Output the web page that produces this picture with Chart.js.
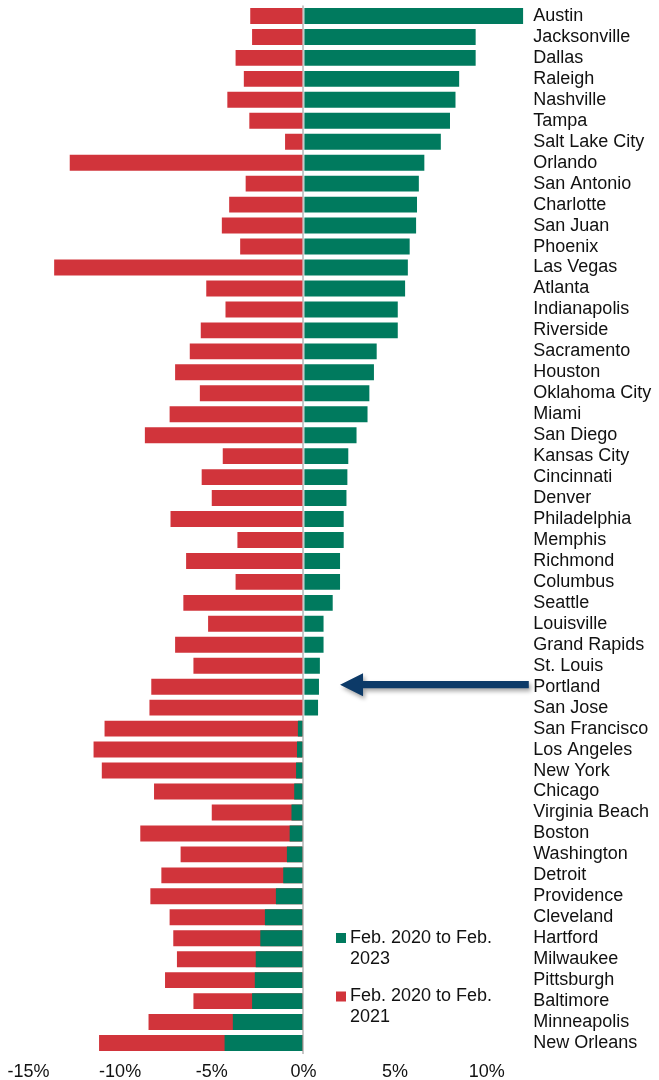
<!DOCTYPE html>
<html>
<head>
<meta charset="utf-8">
<script src="https://cdn.jsdelivr.net/npm/chart.js@4.4.1/dist/chart.umd.min.js"></script>
<style>
  html, body { margin: 0; padding: 0; background: #fff; }
  #wrap { position: relative; width: 659px; height: 1080px; }
</style>
</head>
<body>
<div id="wrap"><canvas id="metroChart"></canvas></div>
<script>
// --- Data (percent change) ---
const cities = [
    'Austin', 'Jacksonville', 'Dallas', 'Raleigh', 'Nashville', 'Tampa', 'Salt Lake City',
    'Orlando', 'San Antonio', 'Charlotte', 'San Juan', 'Phoenix', 'Las Vegas', 'Atlanta',
    'Indianapolis', 'Riverside', 'Sacramento', 'Houston', 'Oklahoma City', 'Miami',
    'San Diego', 'Kansas City', 'Cincinnati', 'Denver', 'Philadelphia', 'Memphis',
    'Richmond', 'Columbus', 'Seattle', 'Louisville', 'Grand Rapids', 'St. Louis',
    'Portland', 'San Jose', 'San Francisco', 'Los Angeles', 'New York', 'Chicago',
    'Virginia Beach', 'Boston', 'Washington', 'Detroit', 'Providence', 'Cleveland',
    'Hartford', 'Milwaukee', 'Pittsburgh', 'Baltimore', 'Minneapolis', 'New Orleans'
];

// Feb. 2020 to Feb. 2023
const change2023 = [
    12.0, 9.4, 9.4, 8.5, 8.3, 8.0, 7.5, 6.6, 6.3, 6.2,
    6.15, 5.8, 5.7, 5.55, 5.15, 5.15, 4.0, 3.85, 3.6, 3.5,
    2.9, 2.45, 2.4, 2.35, 2.2, 2.2, 2.0, 2.0, 1.6, 1.1,
    1.1, 0.9, 0.85, 0.8, -0.3, -0.35, -0.4, -0.5, -0.65, -0.75,
    -0.9, -1.1, -1.5, -2.1, -2.35, -2.6, -2.65, -2.8, -3.85, -4.3
];

// Feb. 2020 to Feb. 2021
const change2021 = [
    -2.9, -2.8, -3.7, -3.25, -4.15, -2.95, -1.0, -12.75, -3.15, -4.05,
    -4.45, -3.45, -13.6, -5.3, -4.25, -5.6, -6.2, -7.0, -5.65, -7.3,
    -8.65, -4.4, -5.55, -5.0, -7.25, -3.6, -6.4, -3.7, -6.55, -5.2,
    -7.0, -6.0, -8.3, -8.4, -10.85, -11.45, -11.0, -8.15, -5.0, -8.9,
    -6.7, -7.75, -8.35, -7.3, -7.1, -6.9, -7.55, -6.0, -8.45, -11.15
];

const xTickValues = [-15, -10, -5, 0, 5, 10];
const seriesLabels = ['Feb. 2020 to Feb. 2023', 'Feb. 2020 to Feb. 2021'];
const highlightCity = 'Portland';

const GREEN = '#007a5e';
const RED = '#d1343b';
const NAVY = '#0c3a68';
const TEXT = '#111';
const FONT_FAMILY = '"Liberation Sans", Arial, sans-serif';

// --- Arrow pointing at the highlighted city ---
const arrowPlugin = {
    id: 'highlightArrow',
    afterDatasetsDraw(chart) {
        const { ctx, chartArea, scales: { x, y } } = chart;
        const yc = y.getPixelForValue(cities.indexOf(highlightCity)) - 2;
        const tipX = x.getPixelForValue(2.0);
        const tailX = chartArea.right + 5.5;
        const headLen = 23, headHalf = 11.5, shaftHalf = 3.6;

        ctx.save();
        ctx.shadowColor = 'rgba(0, 0, 0, 0.35)';
        ctx.shadowBlur = 4;
        ctx.shadowOffsetX = 2;
        ctx.shadowOffsetY = 3;
        ctx.fillStyle = NAVY;
        ctx.beginPath();
        ctx.moveTo(tipX, yc);
        ctx.lineTo(tipX + headLen, yc - headHalf);
        ctx.lineTo(tipX + headLen, yc - shaftHalf);
        ctx.lineTo(tailX, yc - shaftHalf);
        ctx.lineTo(tailX, yc + shaftHalf);
        ctx.lineTo(tipX + headLen, yc + shaftHalf);
        ctx.lineTo(tipX + headLen, yc + headHalf);
        ctx.closePath();
        ctx.fill();
        ctx.restore();
    }
};

// --- Legend drawn inside the plot, bottom right ---
const insideLegend = {
    id: 'insideLegend',
    afterDraw(chart) {
        const { ctx } = chart;
        const left = 336, textX = 350, maxW = 165, lineH = 20.6;
        const rowTops = [933, 991.5];

        ctx.save();
        ctx.font = '18px ' + FONT_FAMILY;
        ctx.textBaseline = 'middle';
        ctx.textAlign = 'left';

        chart.data.datasets.forEach((ds, i) => {
            const top = rowTops[i];
            ctx.fillStyle = ds.backgroundColor;
            ctx.fillRect(left, top, 10, 10);

            // simple word wrap
            const words = ds.label.split(' ');
            const lines = [];
            let line = '';
            words.forEach(w => {
                const test = line ? line + ' ' + w : w;
                if (ctx.measureText(test).width > maxW && line) {
                    lines.push(line);
                    line = w;
                } else {
                    line = test;
                }
            });
            lines.push(line);

            ctx.fillStyle = TEXT;
            lines.forEach((l, j) => ctx.fillText(l, textX, top + 5 + j * lineH));
        });
        ctx.restore();
    }
};

const tickFont = { family: FONT_FAMILY, size: 18 };

new Chart(document.getElementById('metroChart'), {
    type: 'bar',
    data: {
        labels: cities,
        datasets: [
            {
                label: seriesLabels[0],
                data: change2023,
                backgroundColor: GREEN,
                grouped: false,
                barPercentage: 0.76,
                categoryPercentage: 1
            },
            {
                label: seriesLabels[1],
                data: change2021,
                backgroundColor: RED,
                grouped: false,
                barPercentage: 0.76,
                categoryPercentage: 1
            }
        ]
    },
    options: {
        indexAxis: 'y',
        responsive: true,
        maintainAspectRatio: false,
        animation: false,
        layout: { padding: { top: 5.5, left: 28.5, right: 0, bottom: 0 } },
        plugins: {
            legend: { display: false },
            tooltip: { enabled: false }
        },
        scales: {
            x: {
                type: 'linear',
                min: -15,
                max: 12,
                z: 1,
                afterBuildTicks: s => { s.ticks = xTickValues.map(v => ({ value: v })); },
                afterFit: s => { s.height = 26.5; s.paddingLeft = 0; s.paddingRight = 0; },
                grid: {
                    color: c => (c.tick && c.tick.value === 0 ? '#c8c8c8' : 'rgba(0,0,0,0)'),
                    lineWidth: 2,
                    drawTicks: false
                },
                border: { display: false },
                ticks: {
                    padding: 8,
                    color: TEXT,
                    font: tickFont,
                    callback: v => v + '%'
                }
            },
            y: {
                type: 'category',
                position: 'right',
                offset: true,
                grid: { display: false, drawTicks: false },
                border: { display: false },
                afterFit: s => { s.width = 135.7; s.paddingTop = 0; s.paddingBottom = 0; },
                ticks: {
                    padding: 10,
                    autoSkip: false,
                    color: TEXT,
                    font: tickFont
                }
            }
        }
    },
    plugins: [arrowPlugin, insideLegend]
});
</script>
</body>
</html>
